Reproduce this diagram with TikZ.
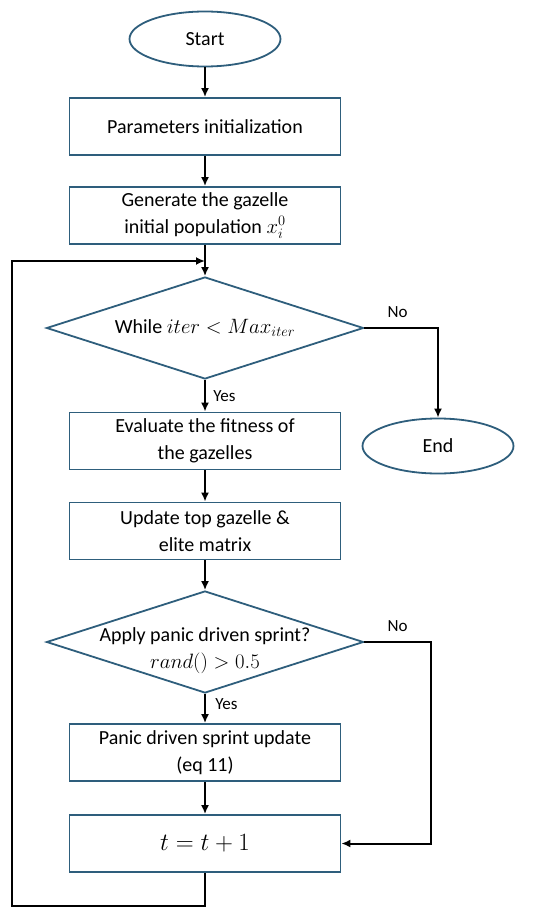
\documentclass[tikz,border=0pt]{standalone}
\usepackage{fontspec}
\setmainfont{Carlito}
\usetikzlibrary{shapes.geometric,arrows.meta}
\definecolor{boxblue}{RGB}{46,94,124}

\begin{document}
\begin{tikzpicture}[x = 1pt, y = -1pt,
  font = \fontsize{20}{27}\selectfont,
  process/.style = {draw = boxblue, line width = 1.8pt, minimum width = 271pt, minimum height = 57pt, align = center, inner sep = 0pt},
  terminal/.style = {draw = boxblue, line width = 1.8pt, ellipse, minimum width = 151pt, minimum height = 55pt, inner sep = 0pt},
  decision/.style = {draw = boxblue, line width = 1.8pt, diamond, minimum width = 317pt, minimum height = 102pt, inner sep = 0pt},
  arrow/.style = {line width = 2pt, -{Latex[length = 9pt, width = 8pt]}},
  answer/.style = {font = \fontsize{17}{20}\selectfont}]
\useasboundingbox (0,0) rectangle (550,920);
\node[terminal] (start) at (205,39) {Start};
\node[process] (params) at (205,126.5) {Parameters initialization};
\node[process] (gen) at (205,215.5) {Generate the gazelle\\initial population $x_i^0$};
\node[decision, label = {center:While $iter < Max_{iter}$}] (while) at (205,328) {};
\node[terminal] (end) at (438,446) {End};
\node[process] (fit) at (205,441) {Evaluate the fitness of\\the gazelles};
\node[process] (top) at (205,531) {Update top gazelle \&\\elite matrix};
\node[decision, label = {[align = center, yshift = -9pt]center:Apply panic driven sprint?\\$rand() > 0.5$}] (panic) at (205,642) {};
\node[process] (sprint) at (205,752.5) {Panic driven sprint update\\(eq 11)};
\node[process, font = \fontsize{23}{27}\selectfont] (incr) at (205,843.5) {$t = t + 1$};
\coordinate (right) at (431,843.5);
\coordinate (low) at (12,906);
\coordinate (high) at (12,261);
% main flow
\draw[arrow] (start) -- (params);
\draw[arrow] (params) -- (gen);
\draw[arrow] (gen) -- (while);
\draw[arrow] (while) -- node[answer, right, xshift = 4pt] {Yes} (fit);
\draw[arrow] (fit) -- (top);
\draw[arrow] (top) -- (panic);
\draw[arrow] (panic) -- node[answer, right, xshift = 6pt, pos = 0.35] {Yes} (sprint);
\draw[arrow] (sprint) -- (incr);
% branches
\draw[arrow] (while.east) -| node[answer, pos = 0.225, above, yshift = 6pt] {No} (end.north);
\draw[arrow] (panic.east) -| node[answer, pos = 0.25, above, yshift = 6pt] {No} (right) -- (incr.east);
\draw[arrow] (incr.south) |- (low) -- (high) -- (high -| while.north);
\end{tikzpicture}
\end{document}
